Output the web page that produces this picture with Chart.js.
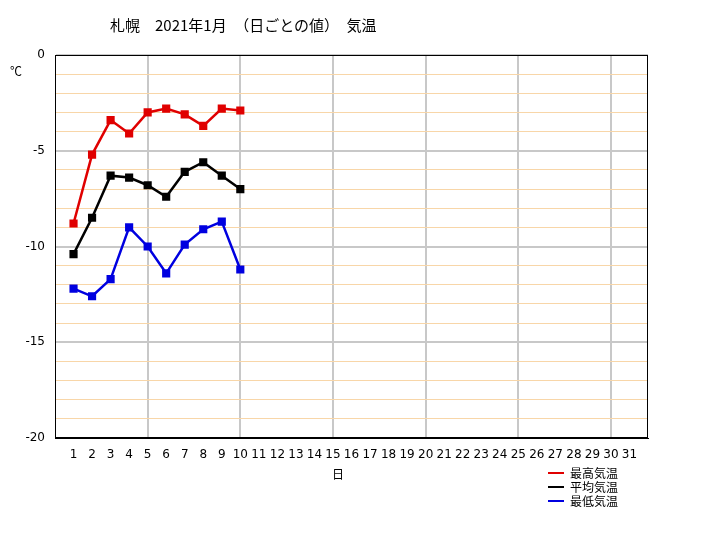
<!DOCTYPE html>
<html><head><meta charset="utf-8">
<script src="https://cdn.jsdelivr.net/npm/chart.js@4/dist/chart.umd.min.js"></script>
<style>
body{margin:0;background:#fff;font-family:"Noto Sans CJK JP",sans-serif;}
#wrap{position:relative;width:703px;height:548px;}
.t{position:absolute;font-size:14px;color:#000;white-space:pre;}
.lg{position:absolute;left:548px;font-size:12px;line-height:14px;}
.lg span{display:inline-block;width:16px;height:2px;vertical-align:middle;margin-right:6px;position:relative;top:-2px}
</style></head><body>
<div id="wrap">
<canvas id="c" width="703" height="548"></canvas>
<div class="t" style="left:110px;top:14px;font-size:15px">札幌　2021年1月　（日ごとの値）　気温</div>
<div class="t" style="left:10px;top:62px;font-size:12px">℃</div>
<div class="t" style="left:332px;top:465px;font-size:12px">日</div>
<div class="lg" style="top:466px"><span style="background:#e00000"></span>最高気温</div>
<div class="lg" style="top:480px"><span style="background:#000"></span>平均気温</div>
<div class="lg" style="top:494px"><span style="background:#0000e0"></span>最低気温</div>
</div>
<script>
const days=[1,2,3,4,5,6,7,8,9,10];
const maxTemp=[-8.8,-5.2,-3.4,-4.1,-3.0,-2.8,-3.1,-3.7,-2.8,-2.9];
const meanTemp=[-10.4,-8.5,-6.3,-6.4,-6.8,-7.4,-6.1,-5.6,-6.3,-7.0];
const minTemp=[-12.2,-12.6,-11.7,-9.0,-10.0,-11.4,-9.9,-9.1,-8.7,-11.2];
const pts=a=>a.map((v,i)=>({x:days[i],y:v}));
const ds=(l,d,c)=>({label:l,data:pts(d),borderColor:c,backgroundColor:c,borderWidth:2.5,pointStyle:'rect',pointRadius:4,pointHoverRadius:4,tension:0});
new Chart(document.getElementById('c'),{
type:'line',
data:{datasets:[ds('最高気温',maxTemp,'#e00000'),ds('平均気温',meanTemp,'#000000'),ds('最低気温',minTemp,'#0000e0')]},
options:{responsive:false,animation:false,
layout:{padding:{top:55,right:55,left:0,bottom:0}},
plugins:{legend:{display:false},tooltip:{enabled:false}},
scales:{
x:{type:'linear',min:0,max:32,afterFit:s=>{s.height=110},
ticks:{stepSize:1,autoSkip:false,maxRotation:0,padding:10,color:'#000',font:{size:12,family:'DejaVu Sans'},callback:v=>(v>=1&&v<=31)?v:''},
grid:{color:c=>(c.tick.value%5===0&&c.tick.value>0&&c.tick.value<32)?'#c8c8c8':'rgba(0,0,0,0)',lineWidth:2,drawTicks:false},
border:{color:'#000',width:1}},
y:{min:-20,max:0,afterFit:s=>{s.width=55},
ticks:{stepSize:1,autoSkip:false,color:'#000',font:{size:12,family:'DejaVu Sans'},padding:10,callback:v=>v%5===0?v:''},
grid:{color:c=>c.tick.value%5===0?'#c8c8c8':'#f8d6a8',lineWidth:c=>c.tick.value%5===0?2:1,drawTicks:false},
border:{color:'#000',width:1}}
}},
plugins:[{id:'box',afterDraw(ch){const a=ch.chartArea,x=ch.ctx;x.save();x.strokeStyle='#000';x.lineWidth=1;x.strokeRect(a.left+0.5,a.top+0.5,a.width-1,a.height-1);x.restore();}}]
});
</script></body></html>
